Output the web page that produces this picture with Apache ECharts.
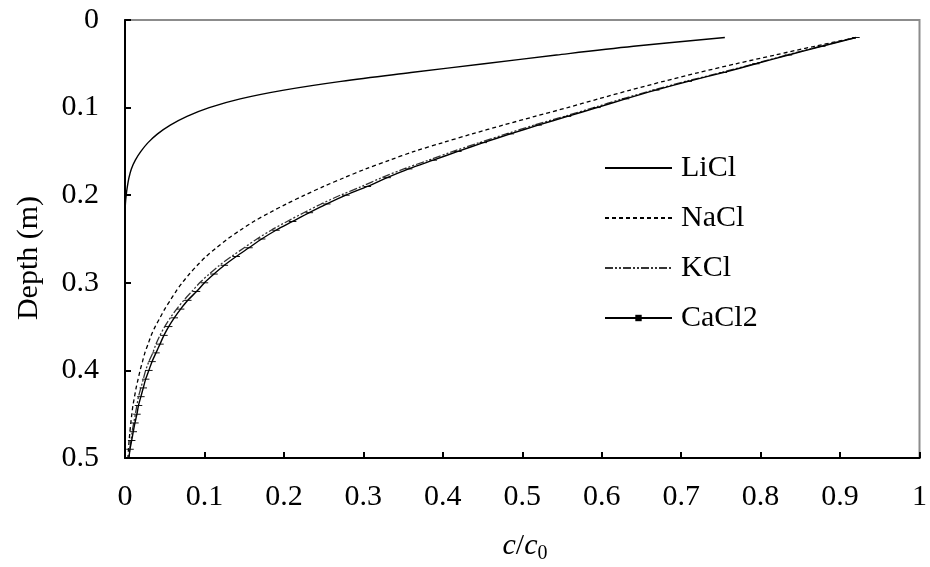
<!DOCTYPE html>
<html>
<head>
<meta charset="utf-8">
<script src="https://cdn.jsdelivr.net/npm/echarts@6/dist/echarts.min.js"></script>
<style>html,body{margin:0;padding:0;background:#fff}#c{width:930px;height:567px}</style>
</head>
<body>
<div id="c"></div>
<script>
// Depth (m) at which each series is sampled
const depths = [0.02,0.03,0.04,0.05,0.06,0.07,0.08,0.09,0.10,0.11,0.12,0.13,0.14,0.15,0.16,0.17,0.18,0.19,0.20,0.21,0.22,0.23,0.24,0.25,0.26,0.27,0.28,0.29,0.30,0.31,0.32,0.33,0.34,0.35,0.36,0.37,0.38,0.39,0.40,0.41,0.42,0.43,0.44,0.45,0.46,0.47,0.48,0.49,0.50];
// c/c0 values
const liCl = [0.755,0.640,0.543,0.452,0.360,0.272,0.200,0.145,0.106,0.078,0.057,0.041,0.029,0.020,0.013,0.008,0.005,0.003,0.0015,0.0005,0,0,0,0,0,0,0,0,0,0,0,0,0,0,0,0,0,0,0,0,0,0,0,0,0,0,0,0,0];
const naCl = [0.920,0.868,0.818,0.769,0.722,0.678,0.636,0.596,0.557,0.516,0.476,0.437,0.400,0.364,0.333,0.303,0.276,0.250,0.226,0.203,0.182,0.162,0.145,0.129,0.115,0.102,0.091,0.081,0.072,0.064,0.057,0.050,0.044,0.038,0.033,0.029,0.025,0.022,0.019,0.0165,0.014,0.012,0.010,0.0086,0.0073,0.0062,0.0052,0.0044,0.0037];
const kCl = [0.920,0.875,0.833,0.792,0.750,0.706,0.665,0.626,0.590,0.553,0.515,0.480,0.446,0.413,0.382,0.351,0.323,0.298,0.271,0.247,0.225,0.204,0.184,0.166,0.150,0.134,0.119,0.106,0.094,0.084,0.074,0.065,0.057,0.050,0.044,0.039,0.035,0.030,0.026,0.023,0.020,0.017,0.015,0.013,0.011,0.009,0.0075,0.006,0.005];
const caCl2 = [0.920,0.877,0.835,0.794,0.753,0.709,0.668,0.630,0.594,0.557,0.520,0.485,0.451,0.419,0.388,0.357,0.330,0.305,0.278,0.254,0.232,0.211,0.190,0.172,0.156,0.140,0.125,0.112,0.100,0.090,0.079,0.070,0.062,0.055,0.049,0.044,0.039,0.034,0.030,0.026,0.023,0.020,0.017,0.015,0.0125,0.0104,0.0084,0.0063,0.005];
const seriesNames = ['LiCl','NaCl','KCl','CaCl2'];
const xTicks = [0,0.1,0.2,0.3,0.4,0.5,0.6,0.7,0.8,0.9,1];
const yTicks = [0,0.1,0.2,0.3,0.4,0.5];

const FONT = 'Liberation Serif';
const pairs = vals => vals.map((v, i) => [v, depths[i]]);

const chart = echarts.init(document.getElementById('c'), null, {renderer: 'canvas'});
const axisCommon = {
  axisLine: {show: true, onZero: false, lineStyle: {color: '#000', width: 2}},
  axisTick: {show: true, inside: true, length: 6, lineStyle: {color: '#000', width: 2}},
  splitLine: {show: false},
  axisLabel: {color: '#000', fontFamily: FONT, fontSize: 30}
};
chart.setOption({
  animation: false,
  backgroundColor: '#fff',
  grid: {left: 125, right: 7, top: 20, bottom: 109, show: true, borderColor: '#8c8c8c', borderWidth: 2, backgroundColor: 'transparent'},
  xAxis: Object.assign({}, axisCommon, {
    type: 'value', min: xTicks[0], max: xTicks[xTicks.length - 1], interval: 0.1, position: 'bottom',
    axisLabel: Object.assign({}, axisCommon.axisLabel, {margin: 24})
  }),
  yAxis: Object.assign({}, axisCommon, {
    type: 'value', inverse: true, min: yTicks[0], max: yTicks[yTicks.length - 1], interval: 0.1,
    axisLabel: Object.assign({}, axisCommon.axisLabel, {margin: 26})
  }),
  legend: {
    orient: 'vertical', left: 604, top: 153, padding: 0,
    itemWidth: 67, itemHeight: 8, itemGap: 20,
    itemStyle: {opacity: 0},
    data: [
      {name: seriesNames[0]},
      {name: seriesNames[1]},
      {name: seriesNames[2]},
      {name: seriesNames[3], itemStyle: {opacity: 1}}
    ],
    textStyle: {color: '#000', fontFamily: FONT, fontSize: 30, lineHeight: 30, padding: [0, 0, 0, 4]}
  },
  series: [
    {name: seriesNames[0], type: 'line', data: pairs(liCl), symbol: 'none', smooth: 0.35,
     lineStyle: {color: '#000', width: 1.4}, itemStyle: {color: '#000'}},
    {name: seriesNames[1], type: 'line', data: pairs(naCl), symbol: 'none', smooth: 0.3,
     lineStyle: {color: '#000', width: 1.3, type: [4, 3]}, itemStyle: {color: '#000'}},
    {name: seriesNames[2], type: 'line', data: pairs(kCl), symbol: 'none', smooth: 0.3,
     lineStyle: {color: '#333', width: 1.3, type: [8, 2, 2, 2, 2, 2]}, itemStyle: {color: '#333'}},
    {name: seriesNames[3], type: 'line', data: pairs(caCl2), smooth: 0.3,
     symbol: 'path://M0,0H3V1H0Z', symbolKeepAspect: true, symbolSize: [7.5, 2.8], showSymbol: true, showAllSymbol: true,
     lineStyle: {color: '#000', width: 1.4}, itemStyle: {color: '#000', opacity: 1}}
  ],
  graphic: [
    {type: 'text', x: 29, y: 258, rotation: Math.PI / 2,
     style: {text: 'Depth (m)', fill: '#000', fontFamily: FONT, fontSize: 30, align: 'center', verticalAlign: 'middle'}},
    {type: 'text', x: 525, y: 546,
     style: {text: '{i|c}{n|/}{i|c}{s|0}', fill: '#000', fontFamily: FONT, fontSize: 30, align: 'center', verticalAlign: 'middle',
       rich: {
         i: {fontFamily: FONT, fontSize: 30, fontStyle: 'italic', fill: '#000'},
         n: {fontFamily: FONT, fontSize: 30, fill: '#000'},
         s: {fontFamily: FONT, fontSize: 20, fill: '#000', padding: [16, 0, 0, 0]}
       }}}
  ]
});
</script>
</body>
</html>
